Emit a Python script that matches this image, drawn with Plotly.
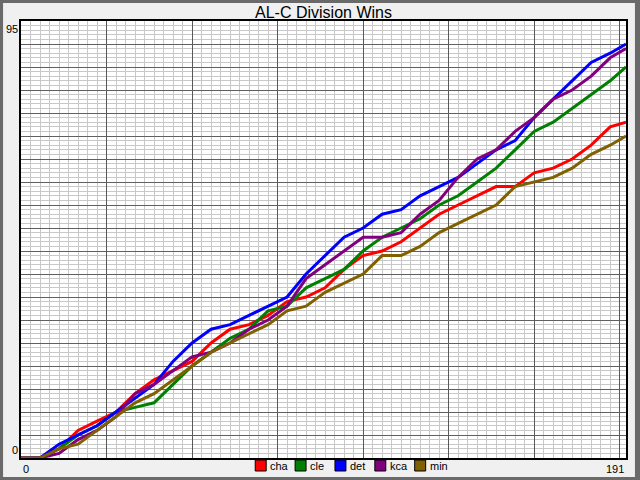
import plotly.graph_objects as go

# Day of the season (read every 6 days) and running win totals per club.
days = [0, 6, 12, 18, 24, 30, 36, 42, 48, 54, 60, 66, 72, 78, 84, 90, 96,
        102, 108, 114, 120, 126, 132, 138, 144, 150, 156, 162, 168, 174,
        180, 186, 191]

cha = [0, 0, 2, 6, 8, 10, 14, 17, 19, 21, 25, 28, 29, 31, 34, 35, 37,
       41, 44, 45, 47, 50, 53, 55, 57, 59, 59, 62, 63, 65, 68, 72, 73]
cle = [0, 0, 2, 5, 7, 10, 11, 12, 16, 20, 23, 26, 28, 32, 33, 37, 39,
       41, 45, 48, 50, 52, 55, 57, 60, 63, 67, 71, 73, 76, 79, 82, 85]
det = [0, 0, 3, 5, 7, 10, 13, 16, 21, 25, 28, 29, 31, 33, 35, 40, 44,
       48, 50, 53, 54, 57, 59, 61, 64, 67, 69, 74, 78, 82, 86, 88, 90]
kca = [0, 0, 1, 4, 6, 9, 14, 16, 19, 22, 23, 25, 28, 30, 33, 39, 42,
       45, 48, 48, 49, 53, 56, 61, 65, 67, 71, 74, 78, 80, 83, 87, 89]
mn = [0, 0, 2, 3, 6, 9, 12, 14, 17, 20, 23, 25, 27, 29, 32, 33, 36,
      38, 40, 44, 44, 46, 49, 51, 53, 55, 59, 60, 61, 63, 66, 68, 70]

teams = ['cha', 'cle', 'det', 'kca', 'min']
colors = ['#ff0000', '#008000', '#0000ff', '#800080', '#806000']
x_range = [0, 191]
y_range = [0, 95]

fig = go.Figure()
for name, wins, color in zip(teams, [cha, cle, det, kca, mn], colors):
    fig.add_trace(go.Scatter(x=days, y=wins, name=name, mode='lines',
                             line=dict(color=color, width=3),
                             showlegend=False))

# Plot box in pixels: left 21, right 628, top 21, bottom 458
L, R, T, B = 21, 628, 21, 458


def px(x):
    return (x - L) / (R - L)


def py(y):
    return (B - y) / (B - T)


font = 'Liberation Sans, Arial, sans-serif'

fig.update_xaxes(range=x_range, tick0=0, dtick=27, ticks='',
                 showticklabels=False, zeroline=False,
                 showgrid=True, gridcolor='#585858', gridwidth=1,
                 minor=dict(tick0=0, dtick=3, showgrid=True,
                            gridcolor='#c8c8c8', gridwidth=1,
                            griddash='solid'),
                 showline=True, linecolor='black', linewidth=2, mirror=True)
fig.update_yaxes(range=y_range, tick0=0, dtick=5, ticks='',
                 showticklabels=False, zeroline=False,
                 showgrid=True, gridcolor='#606060', gridwidth=1,
                 minor=dict(tick0=0, dtick=1, showgrid=True,
                            gridcolor='#c8c8c8', gridwidth=1,
                            griddash='solid'),
                 showline=True, linecolor='black', linewidth=2, mirror=True)

# End labels of the axes
labels = [
    dict(x=x_range[0], y=0, xref='x', yref='paper', text=str(x_range[0]),
         xanchor='left', yanchor='top', yshift=-3),
    dict(x=x_range[1], y=0, xref='x', yref='paper', text=str(x_range[1]),
         xanchor='right', yanchor='top', yshift=-3),
    dict(x=0, y=y_range[0], xref='paper', yref='y', text=str(y_range[0]),
         xanchor='right', yanchor='bottom', xshift=-1),
    dict(x=0, y=y_range[1], xref='paper', yref='y', text=str(y_range[1]),
         xanchor='right', yanchor='top', xshift=-1),
]
for a in labels:
    fig.add_annotation(showarrow=False, font=dict(family=font, size=11,
                                                  color='black'), **a)

# Legend drawn as boxes under the plot
for i, (name, color) in enumerate(zip(teams, colors)):
    x0 = 256 + 40 * i
    fig.add_shape(type='rect', xref='paper', yref='paper',
                  x0=px(x0), x1=px(x0 + 11), y0=py(471), y1=py(460),
                  fillcolor=color, line=dict(color='black', width=1))
    fig.add_annotation(x=px(x0 + 13), y=py(466), xref='paper', yref='paper',
                       text=name, showarrow=False, xanchor='left',
                       yanchor='middle',
                       font=dict(family=font, size=11, color='black'))

# Window frame
fig.add_shape(type='rect', xref='paper', yref='paper',
              x0=px(0), x1=px(640), y0=py(480), y1=py(0),
              line=dict(color='#6a6a6a', width=6))

fig.update_layout(
    width=640, height=480,
    margin=dict(l=L, r=640 - R, t=T, b=480 - B),
    paper_bgcolor='#f0f0f0', plot_bgcolor='white',
    title=dict(text='AL-C Division Wins', x=0.5, xref='paper',
               y=1 - 12 / 480, yanchor='middle',
               font=dict(family=font, size=16, color='black')),
)

# drop the page margin so the figure sits in the corner of the window
fig.write_html("out.html", config={'displayModeBar': False},
               post_script="document.body.style.margin='0';")
